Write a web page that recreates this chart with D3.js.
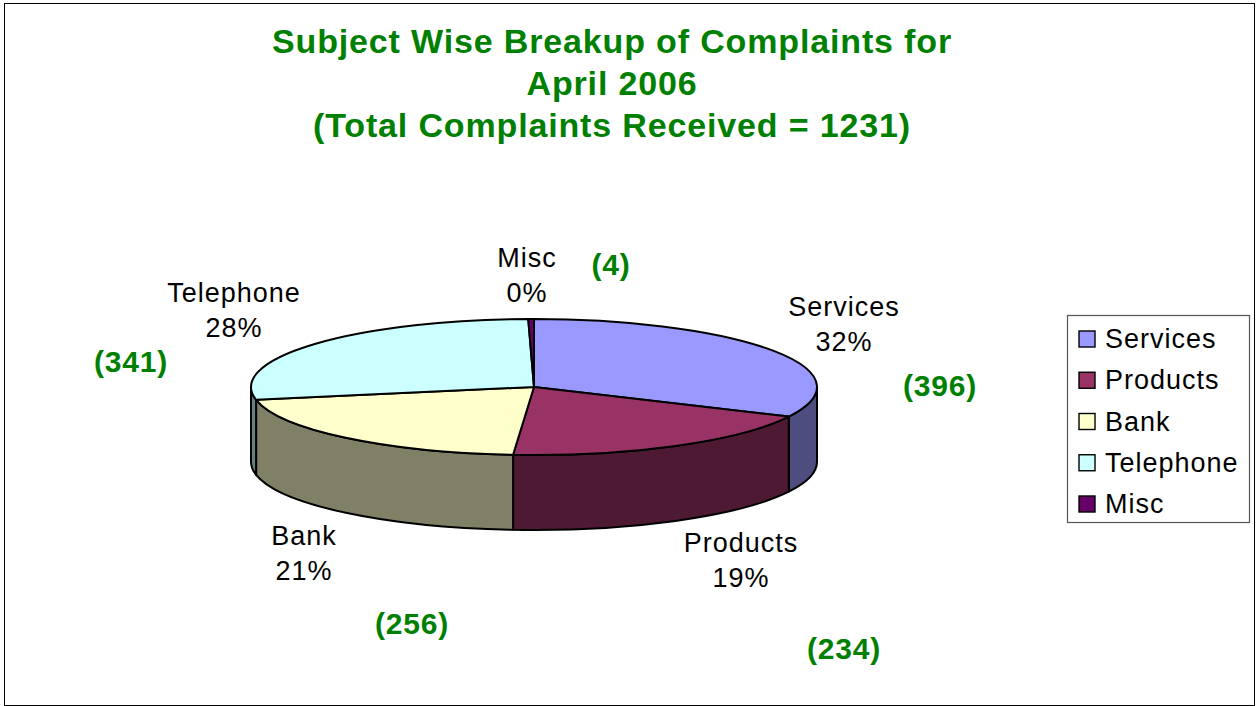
<!DOCTYPE html>
<html>
<head>
<meta charset="utf-8">
<script src="https://cdn.jsdelivr.net/npm/d3@7"></script>
<style>
html, body { margin: 0; padding: 0; background: #fff; }
svg { display: block; }
text { font-family: "Liberation Sans", Arial, sans-serif; }
</style>
</head>
<body>
<svg id="chart" width="1257" height="706"></svg>
<script>
var categories = ["Services", "Products", "Bank", "Telephone", "Misc"]
var counts = [396, 234, 256, 341, 4]
var percentLabels = ["32%", "19%", "21%", "28%", "0%"]
var topColors = ["#9999ff", "#993366", "#ffffcc", "#ccffff", "#660066"]
var sideColors = ["#4d4d80", "#4d1933", "#808066", "#668080", "#330033"]
var titleLines = [
    "Subject Wise Breakup of Complaints for",
    "April 2006",
    "(Total Complaints Received = 1231)"
]

var green = "#008000"
var svg = d3.select("#chart")

// outer frame
svg.append("rect")
    .attr("x", 4.5).attr("y", 3.5)
    .attr("width", 1250).attr("height", 702)
    .attr("fill", "#fff")
    .attr("stroke", "#000")
    .attr("stroke-width", 1)

// title
svg.selectAll("text.title")
    .data(titleLines)
    .enter()
    .append("text")
    .attr("class", "title")
    .attr("x", 612)
    .attr("y", function (d, i) { return 53 + i * 42 })
    .attr("text-anchor", "middle")
    .attr("font-size", 34)
    .attr("font-weight", "bold")
    .attr("letter-spacing", 0.85)
    .attr("fill", green)
    .text(function (d) { return d })

// pie geometry, tilted ellipse
var cx = 534, cy = 387, rx = 283, ry = 68, depth = 75

var pie = d3.pie().sort(null)
var slices = pie(counts)
var arc = d3.arc().innerRadius(0).outerRadius(rx)

function px(a) { return cx + rx * Math.sin(a) }
function py(a) { return cy - ry * Math.cos(a) }

// walls: only the front half of the rim shows
function wallPath(d) {
    var a = Math.max(d.startAngle, Math.PI / 2)
    var b = Math.min(d.endAngle, Math.PI * 1.5)
    if (b <= a) return null
    return "M" + px(a) + "," + py(a) +
        "A" + rx + "," + ry + " 0 0 1 " + px(b) + "," + py(b) +
        "L" + px(b) + "," + (py(b) + depth) +
        "A" + rx + "," + ry + " 0 0 0 " + px(a) + "," + (py(a) + depth) +
        "Z"
}

svg.append("g")
    .selectAll("path")
    .data(slices)
    .enter()
    .append("path")
    .attr("d", wallPath)
    .attr("fill", function (d, i) { return sideColors[i] })
    .attr("stroke", "#000")
    .attr("stroke-width", 2)
    .attr("stroke-linejoin", "round")

svg.append("g")
    .attr("transform", "translate(" + cx + "," + cy + ") scale(1," + (ry / rx) + ")")
    .selectAll("path")
    .data(slices)
    .enter()
    .append("path")
    .attr("d", arc)
    .attr("fill", function (d, i) { return topColors[i] })
    .attr("stroke", "#000")
    .attr("stroke-width", 2)
    .attr("stroke-linejoin", "round")
    .attr("vector-effect", "non-scaling-stroke")

// slice labels, name on top of percent
var labelSpots = [[844, 316], [741, 552], [304, 545], [234, 302], [527, 267]]
var countSpots = [[940, 396], [844, 659], [412, 634], [131, 372], [611, 275]]

categories.forEach(function (name, i) {
    var t = svg.append("text")
        .attr("text-anchor", "middle")
        .attr("font-size", 27)
        .attr("letter-spacing", 1)
        .attr("fill", "#000")
    t.append("tspan").attr("x", labelSpots[i][0]).attr("y", labelSpots[i][1]).text(name)
    t.append("tspan").attr("x", labelSpots[i][0]).attr("y", labelSpots[i][1] + 35).text(percentLabels[i])
})

svg.selectAll("text.count")
    .data(counts)
    .enter()
    .append("text")
    .attr("class", "count")
    .attr("x", function (d, i) { return countSpots[i][0] })
    .attr("y", function (d, i) { return countSpots[i][1] })
    .attr("text-anchor", "middle")
    .attr("font-size", 30)
    .attr("font-weight", "bold")
    .attr("letter-spacing", 0.8)
    .attr("fill", green)
    .text(function (d) { return "(" + d + ")" })

// legend
var legendY = d3.scalePoint().domain(categories).range([339, 504])

svg.append("rect")
    .attr("x", 1067.5).attr("y", 315.5)
    .attr("width", 182).attr("height", 207)
    .attr("fill", "#fff")
    .attr("stroke", "#555")
    .attr("stroke-width", 1.2)

var items = svg.append("g")
    .selectAll("g")
    .data(categories)
    .enter()
    .append("g")
    .attr("transform", function (d) { return "translate(0," + legendY(d) + ")" })

items.append("rect")
    .attr("x", 1079).attr("y", -8)
    .attr("width", 16).attr("height", 16)
    .attr("fill", function (d, i) { return topColors[i] })
    .attr("stroke", "#000")
    .attr("stroke-width", 1.4)

items.append("text")
    .attr("x", 1105)
    .attr("y", 9)
    .attr("font-size", 27)
    .attr("letter-spacing", 1)
    .attr("fill", "#000")
    .text(function (d) { return d })
</script>
</body>
</html>
